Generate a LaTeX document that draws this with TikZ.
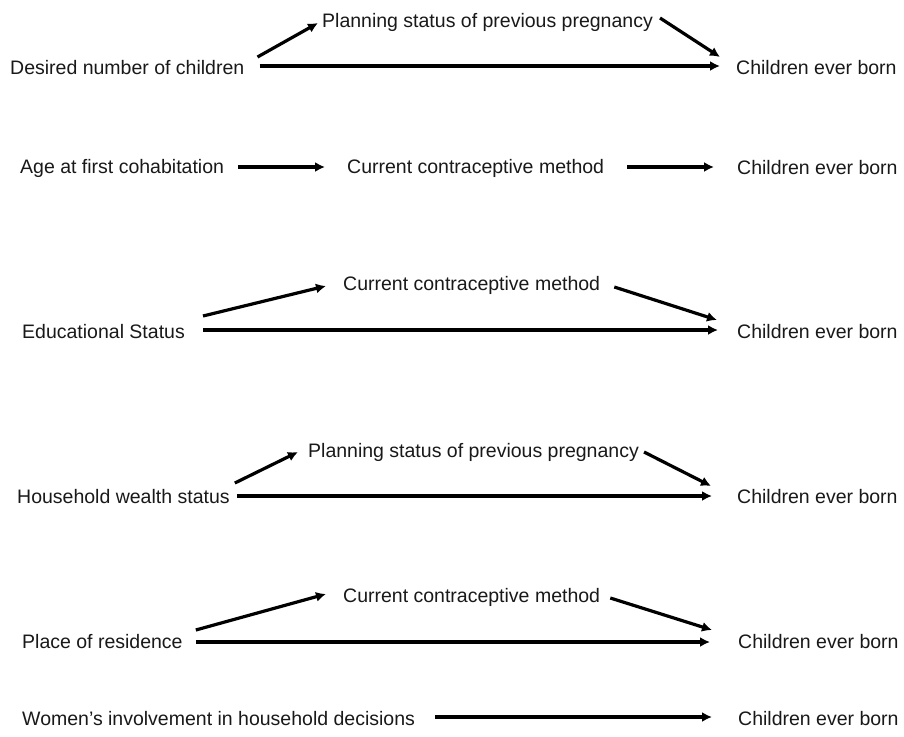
\documentclass[tikz,border=0pt]{standalone}
\usepackage{fontspec}
\setmainfont{Liberation Sans}
\usetikzlibrary{arrows.meta}
\begin{document}
\begin{tikzpicture}[x=1pt,y=-1pt,
  lbl/.style={anchor=west,inner sep=0pt,text=black!90,
    font=\fontsize{19.5}{23}\selectfont},
  arr/.style={line width=3.2pt,-{Latex[length=10pt,width=10pt]}}]
\path[use as bounding box,fill=white] (0,0) rectangle (904,736);

% Desired number of children
\node[lbl] (d1) at (10,68) {Desired number of children};
\node[lbl] (p1) at (322,22) {Planning status of previous pregnancy};
\node[lbl] (c1) at (736,68) {Children ever born};
\draw[arr] ([xshift=13,yshift=11]d1.east) -- ([xshift=-4,yshift=-1]p1.west);
\draw[arr] ([xshift=15,yshift=2]d1.east) -- ([xshift=-16,yshift=2]c1.west);
\draw[arr] ([xshift=7,yshift=4]p1.east) -- ([xshift=-16,yshift=11]c1.west);

% Age at first cohabitation
\node[lbl] (a2) at (20,168) {Age at first cohabitation};
\node[lbl] (m2) at (347,168) {Current contraceptive method};
\node[lbl] (c2) at (737,168) {Children ever born};
\draw[arr] ([xshift=14,yshift=1]a2.east) -- ([xshift=-22,yshift=1]m2.west);
\draw[arr] ([xshift=23,yshift=1]m2.east) -- ([xshift=-23,yshift=1]c2.west);

% Educational status
\node[lbl] (e3) at (22,332) {Educational Status};
\node[lbl] (m3) at (343,285) {Current contraceptive method};
\node[lbl] (c3) at (737,332) {Children ever born};
\draw[arr] ([xshift=18,yshift=16]e3.east) -- ([xshift=-17,yshift=-1]m3.west);
\draw[arr] ([xshift=18,yshift=2]e3.east) -- ([xshift=-19,yshift=2]c3.west);
\draw[arr] ([xshift=14,yshift=-2]m3.east) -- ([xshift=-20,yshift=12]c3.west);

% Household wealth status
\node[lbl] (h4) at (17,497) {Household wealth status};
\node[lbl] (p4) at (308,452) {Planning status of previous pregnancy};
\node[lbl] (c4) at (737,497) {Children ever born};
\draw[arr] ([xshift=5,yshift=14]h4.east) -- ([xshift=-10,yshift=0]p4.west);
\draw[arr] ([xshift=7,yshift=1]h4.east) -- ([xshift=-25,yshift=1]c4.west);
\draw[arr] ([xshift=5,yshift=0]p4.east) -- ([xshift=-26,yshift=11]c4.west);

% Place of residence
\node[lbl] (r5) at (22,642) {Place of residence};
\node[lbl] (m5) at (343,597) {Current contraceptive method};
\node[lbl] (c5) at (738,642) {Children ever born};
\draw[arr] ([xshift=13,yshift=12]r5.east) -- ([xshift=-17,yshift=3]m5.west);
\draw[arr] ([xshift=13,yshift=0]r5.east) -- ([xshift=-28,yshift=0]c5.west);
\draw[arr] ([xshift=10,yshift=-1]m5.east) -- ([xshift=-26,yshift=12]c5.west);

% Women's involvement in household decisions
\node[lbl] (w6) at (22,719) {Women’s involvement in household decisions};
\node[lbl] (c6) at (738,719) {Children ever born};
\draw[arr] ([xshift=20,yshift=2]w6.east) -- ([xshift=-26,yshift=2]c6.west);
\end{tikzpicture}
\end{document}
